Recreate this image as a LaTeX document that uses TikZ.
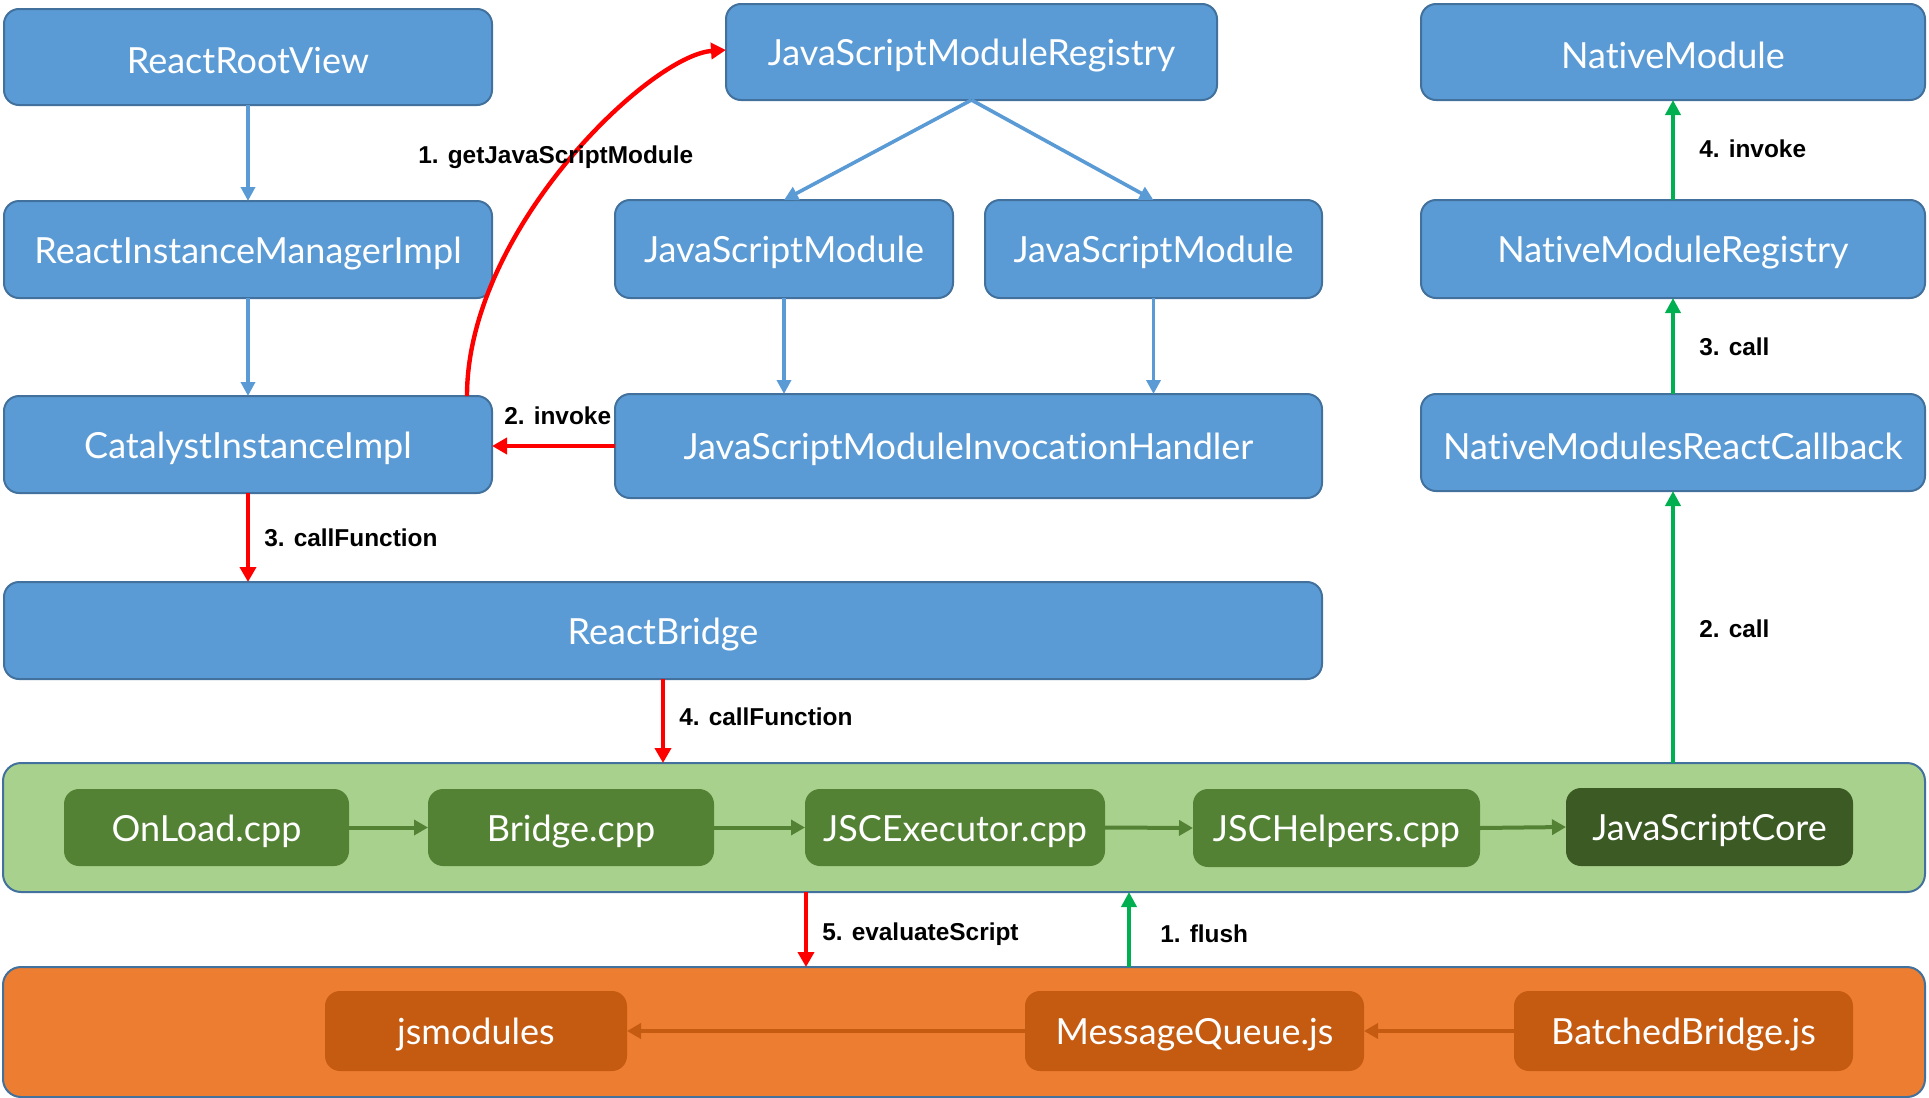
\documentclass[tikz,border=0pt]{standalone}
\usepackage{fontspec}
\setmainfont{Lato}[Ligatures={NoCommon}]
\newfontfamily\labfont{Liberation Sans}
\usetikzlibrary{arrows.meta}
\definecolor{bfill}{HTML}{5B9BD5}
\definecolor{bdraw}{HTML}{41719C}
\definecolor{gbg}{HTML}{A9D18E}
\definecolor{ginner}{HTML}{548235}
\definecolor{gcore}{HTML}{3B5A24}
\definecolor{obg}{HTML}{ED7D31}
\definecolor{oinner}{HTML}{C55A11}
\definecolor{redarr}{HTML}{FF0000}
\definecolor{greenarr}{HTML}{00B050}
\newcommand\mybox[7]{\node[#7, minimum width={((#4)-(#2))*0.5pt}, minimum height={((#5)-(#3))*0.5pt}] (#1) at ({((#2)+(#4))/2},{((#3)+(#5))/2}) {\raisebox{-1.8pt}[\height][\depth]{#6}};}
\tikzset{
  base/.style={rounded corners=7.5pt, inner sep=0pt, outer sep=0pt, text=white, font=\fontsize{18}{21}\selectfont},
  bluebox/.style={base, fill=bfill, draw=bdraw, line width=1pt},
  container/.style={rounded corners=9pt, inner sep=0pt, outer sep=0pt, draw=bdraw, line width=1pt},
  greenbox/.style={base, fill=ginner},
  corebox/.style={base, fill=gcore},
  orangebox/.style={base, fill=oinner},
  bluearrow/.style={draw=bfill, line width=1.8pt, -{Triangle[length=7pt,width=7pt]}},
  redarrow/.style={draw=redarr, line width=2.2pt, -{Triangle[length=7.5pt,width=8pt]}},
  greenarrow/.style={draw=greenarr, line width=2pt, -{Triangle[length=7.5pt,width=7.5pt]}},
  innerg/.style={draw=ginner, line width=2pt, -{Triangle[length=7pt,width=7.5pt]}},
  innero/.style={draw=oinner, line width=2pt, -{Triangle[length=7pt,width=7.5pt]}},
  lbl/.style={font=\labfont\bfseries\fontsize{12.2}{14}\selectfont, inner sep=0pt, text=black}
}
\begin{document}
\begin{tikzpicture}[x=0.5pt,y=-0.5pt]
\useasboundingbox (0,0) rectangle (1929,1098);
% left column
\mybox{rrv}{4}{9}{492}{105}{ReactRootView}{bluebox}
\mybox{rimi}{4}{201}{492}{298}{ReactInstanceManagerImpl}{bluebox}
\mybox{cii}{4}{396}{492}{493}{CatalystInstanceImpl}{bluebox}
\mybox{rb}{4}{582}{1322}{679}{ReactBridge}{bluebox}
% middle
\mybox{jsmr}{726}{4}{1217}{100}{JavaScriptModuleRegistry}{bluebox}
\mybox{jsma}{615}{200}{953}{298}{JavaScriptModule}{bluebox}
\mybox{jsmb}{985}{200}{1322}{298}{JavaScriptModule}{bluebox}
\mybox{jsmih}{615}{394}{1322}{498}{JavaScriptModuleInvocationHandler}{bluebox}
% right
\mybox{nm}{1421}{4}{1925}{100}{NativeModule}{bluebox}
\mybox{nmr}{1421}{200}{1925}{298}{NativeModuleRegistry}{bluebox}
\mybox{nmrc}{1421}{394}{1925}{491}{NativeModulesReactCallback}{bluebox}
% native container
\mybox{native}{3}{763}{1925}{892}{}{container, fill=gbg}
\mybox{onload}{64}{789}{349}{866}{OnLoad.cpp}{greenbox}
\mybox{bridge}{428}{789}{714}{866}{Bridge.cpp}{greenbox}
\mybox{jscexec}{805}{789}{1105}{866}{JSCExecutor.cpp}{greenbox}
\mybox{jschelp}{1193}{789}{1480}{867}{JSCHelpers.cpp}{greenbox}
\mybox{jscore}{1566}{788}{1853}{866}{JavaScriptCore}{corebox}
% js container
\mybox{js}{3}{967}{1925}{1097}{}{container, fill=obg}
\mybox{jsmod}{325}{991}{627}{1071}{jsmodules}{orangebox}
\mybox{mq}{1025}{991}{1364}{1071}{MessageQueue.js}{orangebox}
\mybox{bb}{1514}{991}{1853}{1071}{BatchedBridge.js}{orangebox}
% blue arrows
\draw[bluearrow] (rrv.south) -- (rimi.north);
\draw[bluearrow] (rimi.south) -- (cii.north);
\draw[bluearrow] (jsmr.south) -- (jsma.north);
\draw[bluearrow] (jsmr.south) -- (jsmb.north);
\draw[bluearrow] (jsma.south) -- (jsma.south |- jsmih.north);
\draw[bluearrow] (jsmb.south) -- (jsmb.south |- jsmih.north);
% red arrows
\coordinate (cstart) at (cii.north -| 467,0);
\draw[redarrow] (cstart) .. controls (467,230) and (650,55) .. (jsmr.west |- 0,50);
\draw[redarrow] (jsmih.west) -- (jsmih.west -| cii.east);
\draw[redarrow] (cii.south) -- (cii.south |- rb.north);
\draw[redarrow] (rb.south) -- (rb.south |- native.north);
\draw[redarrow] (native.south -| 806,0) -- (js.north -| 806,0);
% green arrows
\draw[greenarrow] (js.north -| 1129,0) -- (native.south -| 1129,0);
\draw[greenarrow] (native.north -| nmrc.south) -- (nmrc.south);
\draw[greenarrow] (nmrc.north) -- (nmr.south);
\draw[greenarrow] (nmr.north) -- (nm.south);
% inner arrows
\draw[innerg] (onload.east) -- (bridge.west);
\draw[innerg] (bridge.east) -- (jscexec.west);
\draw[innerg] (jscexec.east) -- (jschelp.west);
\draw[innerg] (jschelp.east) -- (jscore.west);
\draw[innero] (bb.west) -- (mq.east);
\draw[innero] (mq.west) -- (jsmod.east);
% labels
\node[lbl, anchor=west] (l1) at (418,157) {1. getJavaScriptModule};
\node[lbl, anchor=west] (l2) at (504,416) {2. invoke};
\node[lbl, anchor=west] (l3) at (264,538) {3. callFunction};
\node[lbl, anchor=west] (l4) at (679,717) {4. callFunction};
\node[lbl, anchor=west] (l5) at (822,934) {5. evaluateScript};
\node[lbl, anchor=west] (g1) at (1160,934) {1. flush};
\node[lbl, anchor=west] (g2) at (1699,629) {2. call};
\node[lbl, anchor=west] (g3) at (1699,347) {3. call};
\node[lbl, anchor=west] (g4) at (1699,149) {4. invoke};
\end{tikzpicture}
\end{document}
